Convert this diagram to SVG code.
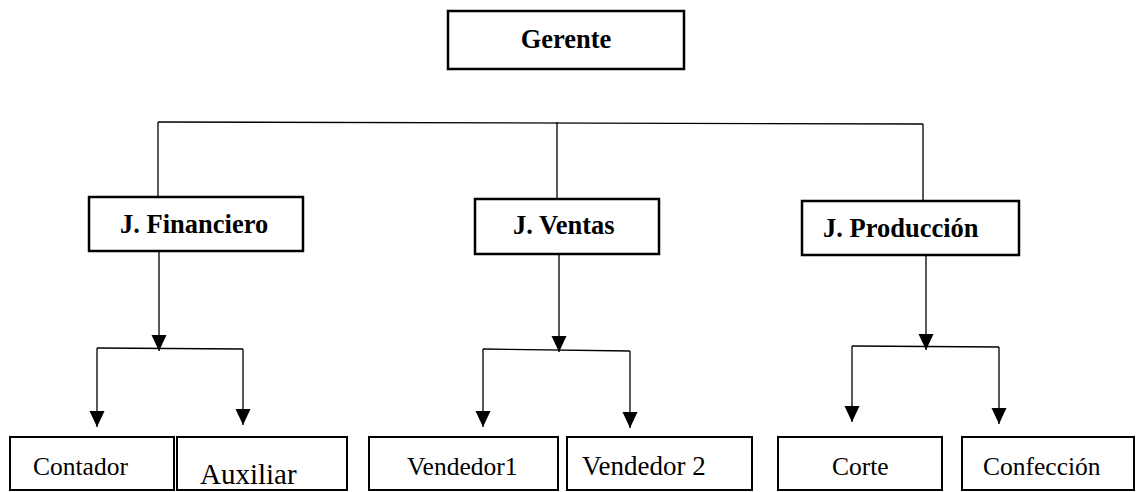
<svg xmlns="http://www.w3.org/2000/svg" width="1136" height="492" viewBox="0 0 1136 492">
<style>
.box{fill:#fff;stroke:#000;stroke-width:2.5}
.sbox{fill:#fff;stroke:#000;stroke-width:2}
.b{font-family:"Liberation Serif","Times New Roman",serif;font-weight:bold;font-size:26.5px;fill:#000}
.r{font-family:"Liberation Serif","Times New Roman",serif;font-size:25.5px;fill:#000}
.c{fill:none;stroke:#000;stroke-width:1.3}
</style>
<defs>
<marker id="ah" markerUnits="userSpaceOnUse" markerWidth="16" markerHeight="16" refX="16" refY="7.5" orient="auto">
<path d="M0,0 L16,7.5 L0,15 z" fill="#000"/>
</marker>
</defs>
<rect width="1136" height="492" fill="#fff"/>
<g id="connectors">
<path class="c" d="M158,122 L923,124"/>
<path class="c" d="M158,122 L158,197"/>
<path class="c" d="M557,122 L557,199"/>
<path class="c" d="M923,124 L923,201"/>
<path class="c" d="M159,251 L159,351" marker-end="url(#ah)"/>
<path class="c" d="M97,348 L243,349"/>
<path class="c" d="M97,348 L97,427" marker-end="url(#ah)"/>
<path class="c" d="M243,349 L243,425" marker-end="url(#ah)"/>
<path class="c" d="M559,254 L559,352" marker-end="url(#ah)"/>
<path class="c" d="M483,349 L630,351"/>
<path class="c" d="M483,349 L483,427" marker-end="url(#ah)"/>
<path class="c" d="M630,351 L630,428" marker-end="url(#ah)"/>
<path class="c" d="M926,255 L926,350" marker-end="url(#ah)"/>
<path class="c" d="M852,346 L999,347"/>
<path class="c" d="M852,346 L852,422" marker-end="url(#ah)"/>
<path class="c" d="M999,347 L999,424" marker-end="url(#ah)"/>
</g>
<g id="gerente"><rect class="box" x="448" y="11" width="236" height="58"/><text class="b" x="566" y="48" text-anchor="middle">Gerente</text></g>
<g id="jfinanciero"><rect class="box" x="89" y="197" width="214" height="54"/><text class="b" x="120" y="233">J. Financiero</text></g>
<g id="jventas"><rect class="box" x="475" y="199" width="184" height="55"/><text class="b" x="513" y="234">J. Ventas</text></g>
<g id="jproduccion"><rect class="box" x="802" y="201" width="217" height="54"/><text class="b" x="823" y="237">J. Producción</text></g>
<g id="contador"><rect class="sbox" x="10" y="437" width="164" height="53"/><text class="r" x="33" y="475">Contador</text></g>
<g id="auxiliar"><rect class="sbox" x="177" y="437" width="170" height="53"/><text class="r" x="200" y="484" style="font-size:29px">Auxiliar</text></g>
<g id="vendedor1"><rect class="sbox" x="369" y="437" width="189" height="53"/><text class="r" x="407" y="475">Vendedor1</text></g>
<g id="vendedor2"><rect class="sbox" x="567" y="437" width="185" height="53"/><text class="r" x="582" y="475" style="font-size:27px">Vendedor 2</text></g>
<g id="corte"><rect class="sbox" x="778" y="437" width="164" height="53"/><text class="r" x="832" y="475">Corte</text></g>
<g id="confeccion"><rect class="sbox" x="962" y="437" width="172" height="53"/><text class="r" x="983" y="475">Confección</text></g>
</svg>
